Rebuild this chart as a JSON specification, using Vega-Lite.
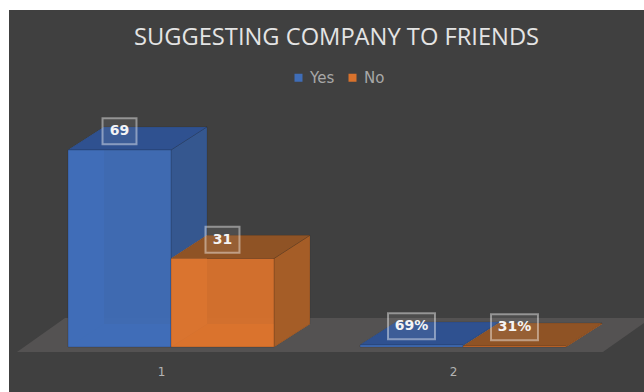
{
  "$schema": "https://vega.github.io/schema/vega-lite/v6.json",
  "width": 635,
  "height": 382,
  "autosize": "none",
  "padding": {"left": 9, "top": 10, "right": 0, "bottom": 0},
  "background": "#ffffff",
  "config": {"view": {"fill": "#404040", "stroke": null}},
  "title": {
    "text": "SUGGESTING COMPANY TO FRIENDS",
    "font": "Open Sans",
    "fontSize": 23.7,
    "fontWeight": "normal",
    "color": "#e4e4e4",
    "anchor": "start",
    "frame": "group",
    "orient": "top",
    "dx": 125,
    "offset": -40
  },
  "params": [
    {"name": "barW", "value": 0.3527},
    {"name": "depthX", "value": 0.1233},
    {"name": "depthY", "value": 8.1}
  ],
  "data": {
    "values": [
      {"category": 1, "series": "Yes", "value": 69},
      {"category": 1, "series": "No", "value": 31},
      {"category": 2, "series": "Yes", "value": 0.69},
      {"category": 2, "series": "No", "value": 0.31}
    ]
  },
  "transform": [
    {"calculate": "datum.category + (datum.series === 'Yes' ? -barW : 0)", "as": "x0"},
    {"calculate": "datum.x0 + barW", "as": "x1"},
    {"calculate": "[0, 1]", "as": "edge"},
    {"flatten": ["edge"]},
    {"calculate": "datum.x0 + datum.edge * depthX", "as": "leftX"},
    {"calculate": "datum.x1 + datum.edge * depthX", "as": "rightX"},
    {"calculate": "datum.value + datum.edge * depthY", "as": "topY"},
    {"calculate": "datum.edge * depthY", "as": "baseY"},
    {"calculate": "(datum.x0 + datum.x1) / 2", "as": "midX"},
    {"calculate": "datum.value + 6.6", "as": "tagY"},
    {"calculate": "(datum.category === 1 ? 17 : 23.5) / 292", "as": "tagHalf"},
    {"calculate": "datum.midX - datum.tagHalf", "as": "tagX0"},
    {"calculate": "datum.midX + datum.tagHalf", "as": "tagX1"},
    {"calculate": "datum.tagY - 4.55", "as": "tagY0"},
    {"calculate": "datum.tagY + 4.55", "as": "tagY1"},
    {"calculate": "datum.category === 2 ? format(datum.value, '.0%') : format(datum.value, 'd')", "as": "tag"}
  ],
  "layer": [
    {
      "description": "Floor plane under both categories",
      "data": {"values": [{"plane": 0}, {"plane": 1}]},
      "transform": [
        {"calculate": "0.4726 + datum.plane * 0.1644", "as": "floorLeft"},
        {"calculate": "2.479 + datum.plane * 0.1644", "as": "floorRight"},
        {"calculate": "-1.75 + datum.plane * 11.9", "as": "floorY"}
      ],
      "mark": {"type": "area", "orient": "horizontal", "color": "#545252", "clip": true},
      "encoding": {
        "y": {"field": "floorY", "type": "quantitative", "scale": {"domain": [-15.76, 118.04]}, "axis": null, "stack": null},
        "x": {
          "field": "floorLeft", "type": "quantitative",
          "scale": {"domain": [0.4452, 2.6199]},
          "title": null,
          "axis": {
            "values": [1, 2], "format": "d", "labelOffset": -10, "offset": -21,
            "domain": false, "ticks": false, "grid": false, "labelPadding": 0,
            "labelColor": "#b4b4b4", "labelFontSize": 12, "labelFont": "DejaVu Sans",
            "labelBaseline": "middle"
          }
        },
        "x2": {"field": "floorRight"}
      }
    },
    {
      "description": "Inner floor of each box, seen through the front",
      "mark": {"type": "area", "orient": "horizontal"},
      "encoding": {
        "y": {"field": "baseY", "type": "quantitative", "scale": {"domain": [-15.76, 118.04]}, "axis": null, "stack": null},
        "x": {"field": "leftX", "type": "quantitative", "scale": {"domain": [0.4452, 2.6199]}, "title": null},
        "x2": {"field": "rightX"},
        "detail": {"field": "category"},
        "color": {"field": "series", "type": "nominal", "legend": null, "scale": {"domain": ["Yes", "No"], "range": ["#4a78be", "#dc8340"]}}
      }
    },
    {
      "description": "Right side faces",
      "mark": {"type": "area", "orient": "vertical", "stroke": "#000000", "strokeOpacity": 0.1, "strokeWidth": 1},
      "encoding": {
        "x": {"field": "rightX", "type": "quantitative", "scale": {"domain": [0.4452, 2.6199]}, "title": null},
        "y": {"field": "topY", "type": "quantitative", "scale": {"domain": [-15.76, 118.04]}, "axis": null, "stack": null},
        "y2": {"field": "baseY"},
        "detail": {"field": "category"},
        "color": {"field": "series", "type": "nominal", "legend": null, "scale": {"domain": ["Yes", "No"], "range": ["#35578f", "#a55d27"]}}
      }
    },
    {
      "description": "Inner left wall of each box, seen through the front",
      "mark": {"type": "area", "orient": "vertical"},
      "encoding": {
        "x": {"field": "leftX", "type": "quantitative", "scale": {"domain": [0.4452, 2.6199]}, "title": null},
        "y": {"field": "topY", "type": "quantitative", "scale": {"domain": [-15.76, 118.04]}, "axis": null, "stack": null},
        "y2": {"field": "baseY"},
        "detail": {"field": "category"},
        "color": {"field": "series", "type": "nominal", "legend": null, "scale": {"domain": ["Yes", "No"], "range": ["#4a78be", "#e89a62"]}}
      }
    },
    {
      "description": "Top faces",
      "mark": {"type": "area", "orient": "horizontal", "stroke": "#000000", "strokeOpacity": 0.1, "strokeWidth": 1},
      "encoding": {
        "y": {"field": "topY", "type": "quantitative", "scale": {"domain": [-15.76, 118.04]}, "axis": null, "stack": null},
        "x": {"field": "leftX", "type": "quantitative", "scale": {"domain": [0.4452, 2.6199]}, "title": null},
        "x2": {"field": "rightX"},
        "detail": {"field": "category"},
        "color": {"field": "series", "type": "nominal", "legend": null, "scale": {"domain": ["Yes", "No"], "range": ["#2f5190", "#8f5325"]}}
      }
    },
    {
      "description": "Front faces, which also carry the legend",
      "transform": [{"filter": "datum.edge === 0"}],
      "mark": {"type": "rect", "fillOpacity": 0.95, "stroke": "#000000", "strokeOpacity": 0.15, "strokeWidth": 1},
      "encoding": {
        "x": {"field": "x0", "type": "quantitative", "scale": {"domain": [0.4452, 2.6199]}, "title": null},
        "x2": {"field": "x1"},
        "y": {"field": "value", "type": "quantitative", "scale": {"domain": [-15.76, 118.04]}, "axis": null},
        "y2": {"datum": 0},
        "color": {
          "field": "series", "type": "nominal",
          "scale": {"domain": ["Yes", "No"], "range": ["#3f6db7", "#d9722c"]},
          "legend": {
            "title": null, "orient": "none", "legendX": 282, "legendY": 60,
            "direction": "horizontal", "symbolType": "square", "symbolSize": 64,
            "symbolOpacity": 1, "symbolStrokeWidth": 0, "labelColor": "#a8a8a8", "labelFont": "DejaVu Sans", "labelFontSize": 15,
            "columns": 2, "columnPadding": 10, "labelOffset": 4
          }
        }
      }
    },
    {
      "description": "Value tag frames",
      "transform": [{"filter": "datum.edge === 0"}],
      "mark": {"type": "rect", "fill": "#ffffff", "fillOpacity": 0.07, "stroke": "#ffffff", "strokeOpacity": 0.42, "strokeWidth": 2},
      "encoding": {
        "x": {"field": "tagX0", "type": "quantitative", "scale": {"domain": [0.4452, 2.6199]}, "title": null},
        "x2": {"field": "tagX1"},
        "y": {"field": "tagY0", "type": "quantitative", "scale": {"domain": [-15.76, 118.04]}, "axis": null},
        "y2": {"field": "tagY1"}
      }
    },
    {
      "description": "Value tag text",
      "transform": [{"filter": "datum.edge === 0"}],
      "mark": {"type": "text", "color": "#f4f4f4", "font": "DejaVu Sans", "fontWeight": "bold", "fontSize": 14, "baseline": "middle", "align": "center"},
      "encoding": {
        "x": {"field": "midX", "type": "quantitative", "scale": {"domain": [0.4452, 2.6199]}, "title": null},
        "y": {"field": "tagY", "type": "quantitative", "scale": {"domain": [-15.76, 118.04]}, "axis": null},
        "text": {"field": "tag"}
      }
    }
  ],
  "resolve": {"scale": {"color": "independent"}}
}
